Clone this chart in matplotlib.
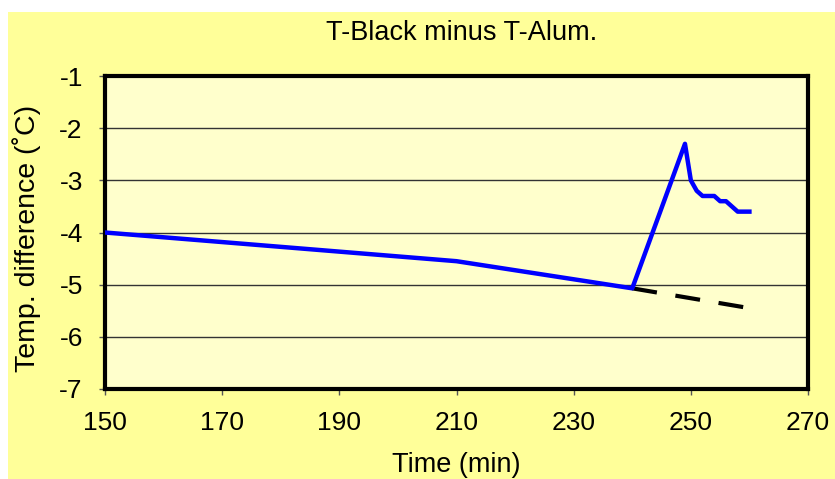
import matplotlib.pyplot as plt
from matplotlib.patches import Rectangle

plt.rcParams['font.family'] = ['Liberation Sans', 'DejaVu Sans']
plt.rcParams['axes.unicode_minus'] = False

# measured difference (blue) and extrapolated trend (dashed)
time_min = [150, 210, 240, 249, 250, 251, 252, 253, 254, 255, 256, 257, 258, 259, 260]
temp_diff = [-4.0, -4.55, -5.07, -2.3, -3.0, -3.2, -3.3, -3.3, -3.3, -3.4, -3.4, -3.5, -3.6, -3.6, -3.6]
trend_time = [240, 260]
trend_diff = [-5.07, -5.45]

x_ticks = [150, 170, 190, 210, 230, 250, 270]
y_ticks = [-1, -2, -3, -4, -5, -6, -7]

fig = plt.figure(figsize=(8.35, 4.79), dpi=100)
fig.patch.set_facecolor('white')
fig.patches.append(Rectangle((8 / 835, 0), 1, 1 - 12 / 479, transform=fig.transFigure,
                             facecolor='#FFFF99', edgecolor='none', zorder=-10))

ax = fig.add_axes([105 / 835, 1 - 389 / 479, 703 / 835, 313 / 479])
ax.set_facecolor('#FFFFCC')

ax.plot(time_min, temp_diff, color='#0000FF', linewidth=3.2, zorder=3)
ax.plot(trend_time, trend_diff, color='black', linewidth=3, dashes=(6, 4.5), zorder=2)

ax.set_xlim(150, 270)
ax.set_ylim(-7, -1)
ax.set_xticks(x_ticks)
ax.set_yticks(y_ticks)
ax.tick_params(labelsize=19, length=4, width=1, color='#555555')
ax.tick_params(axis='x', pad=12)
ax.tick_params(axis='y', pad=12)
for y in y_ticks:
    ax.axhline(y, color='#333333', linewidth=1, zorder=1)
for s in ax.spines.values():
    s.set_linewidth(3)
    s.set_color('black')

fig.text(462 / 835, 1 - 33 / 479, 'T-Black minus T-Alum.', ha='center', va='center', fontsize=19.5)
fig.text(456 / 835, 1 - 465 / 479, 'Time (min)', ha='center', va='center', fontsize=19.5)
fig.text(27 / 835, 1 - 238 / 479, 'Temp. difference (˚C)', ha='center', va='center',
         rotation=90, fontsize=20.5)

fig.savefig('out.png', dpi=100)
